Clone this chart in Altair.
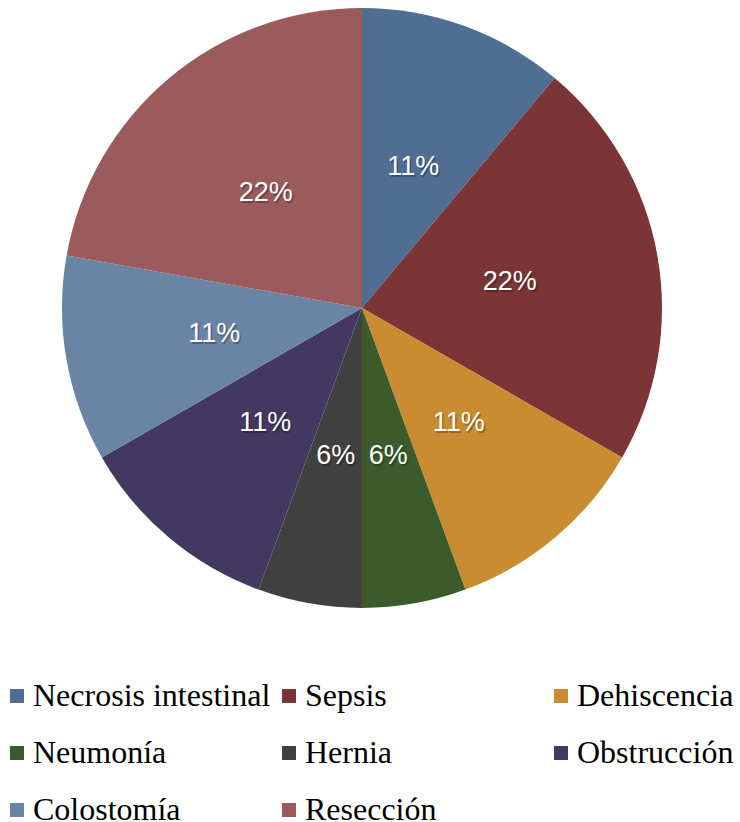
import altair as alt
import pandas as pd

categories = ["Necrosis intestinal", "Sepsis", "Dehiscencia", "Neumonía",
              "Hernia", "Obstrucción", "Colostomía", "Resección"]
values = [11.1, 22.2, 11.1, 5.6, 5.6, 11.1, 11.1, 22.2]
colors = ["#506d92", "#7b3536", "#c98c30", "#3c5b2d",
          "#404040", "#433960", "#6a84a3", "#9b5b5c"]

df = pd.DataFrame({"cat": categories, "val": values, "idx": list(range(len(categories)))})

base = alt.Chart(df).encode(
    theta=alt.Theta("val:Q", stack=True),
    order=alt.Order("idx:Q", sort="ascending"),
)

pie = base.mark_arc(radius=300, stroke=None).encode(
    x=alt.value(362), y=alt.value(308),
    color=alt.Color(
        "cat:N",
        scale=alt.Scale(domain=categories, range=colors),
        sort=categories,
        legend=alt.Legend(
            title=None, orient="none", legendX=1, legendY=680, padding=0,
            direction="horizontal",
            columns=3, gridAlign="all", columnPadding=2, rowPadding=25,
            symbolType="square", symbolSize=196, symbolStrokeWidth=0,
            symbolOpacity=1,
            labelFont="Liberation Serif", labelFontSize=32, labelColor="black",
            labelOffset=0, labelLimit=400,
        ),
    ),
)

shadow = base.transform_calculate(
    lbl="format(datum.val, '.0f') + '%'"
).mark_text(radius=150, font="Liberation Sans", fontSize=27, color="black",
            opacity=0.25, dx=1.5, dy=2).encode(
    x=alt.value(362), y=alt.value(308), text="lbl:N")

labels = base.transform_calculate(
    lbl="format(datum.val, '.0f') + '%'"
).mark_text(radius=150, font="Liberation Sans", fontSize=27, color="white").encode(
    x=alt.value(362), y=alt.value(308), text="lbl:N")

chart = alt.layer(pie, shadow, labels).properties(
    width=740, height=822, autosize="none", padding=0, background="white"
).configure_view(stroke=None)

chart.save("out.html", embed_options={"renderer": "svg", "actions": False})
